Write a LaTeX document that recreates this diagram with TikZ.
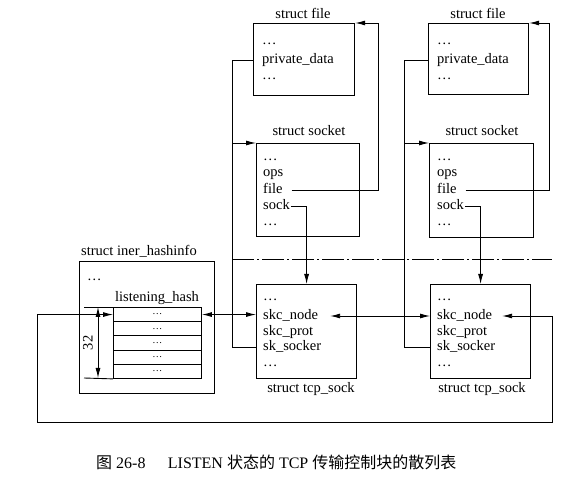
\documentclass[tikz,border=0pt]{standalone}
\usepackage{fontspec}
\setmainfont{Liberation Serif}
\newfontfamily\cjk{Noto Sans CJK SC}
\usetikzlibrary{arrows.meta}
\begin{document}
\begin{tikzpicture}[x=1pt,y=-1pt,
  box/.style={draw, line width=1.2pt, anchor=north west, inner sep=0pt},
  txt/.style={font=\fontsize{14.5}{16}\selectfont, inner sep=0pt, anchor=west, text height=10pt, text depth=3pt},
  ttl/.style={font=\fontsize{14.5}{16}\selectfont, inner sep=0pt, text height=10pt, text depth=3pt},
  row/.style={draw, line width=0.9pt, anchor=north west, inner sep=0pt, minimum width=88pt, minimum height=14.2pt, font=\fontsize{10}{10}\selectfont},
  con/.style={line width=0.9pt},
  arr/.style={con, -{Latex[length=10pt,width=5pt]}},
  darr/.style={con, {Latex[length=10pt,width=5pt]}-{Latex[length=10pt,width=5pt]}},
  dashdot/.style={line width=0.8pt, dash pattern=on 22pt off 3pt on 2pt off 3pt}]
\useasboundingbox (0,0) rectangle (574,484);

% ---------- left column ----------
\node[box, minimum width=101pt, minimum height=72pt] (file1) at (253,23) {};
\node[ttl] (file1t) at (303,15) {struct file};
\node[txt] (f1a) at (262,41) {\ldots};
\node[txt] (pd1) at (262,60) {private\_data};
\node[txt] (f1b) at (262,76) {\ldots};

\node[box, minimum width=103pt, minimum height=93pt] (sock1) at (256,143) {};
\node[ttl] (sock1t) at (309,132) {struct socket};
\node[txt] (s1a) at (263,157) {\ldots};
\node[txt] (ops1) at (263,173) {ops};
\node[txt] (fl1) at (263,190) {file};
\node[txt] (sk1) at (263,206) {sock};
\node[txt] (s1b) at (263,222) {\ldots};

\node[box, minimum width=100pt, minimum height=94pt] (tcp1) at (256,284) {};
\node[ttl] (tcp1t) at (311,389) {struct tcp\_sock};
\node[txt] (t1a) at (263,297) {\ldots};
\node[txt] (skn1) at (263,316) {skc\_node};
\node[txt] (skp1) at (263,332) {skc\_prot};
\node[txt] (sks1) at (263,347) {sk\_socker};
\node[txt] (t1b) at (263,363) {\ldots};

% ---------- right column ----------
\node[box, minimum width=100pt, minimum height=71pt] (file2) at (428,23) {};
\node[ttl] (file2t) at (478,15) {struct file};
\node[txt] (f2a) at (437,41) {\ldots};
\node[txt] (pd2) at (437,60) {private\_data};
\node[txt] (f2b) at (437,76) {\ldots};

\node[box, minimum width=104pt, minimum height=94pt] (sock2) at (429,143) {};
\node[ttl] (sock2t) at (482,132) {struct socket};
\node[txt] (s2a) at (437,157) {\ldots};
\node[txt] (ops2) at (437,173) {ops};
\node[txt] (fl2) at (437,190) {file};
\node[txt] (sk2) at (437,206) {sock};
\node[txt] (s2b) at (437,222) {\ldots};

\node[box, minimum width=100pt, minimum height=94pt] (tcp2) at (430,284) {};
\node[ttl] (tcp2t) at (482,389) {struct tcp\_sock};
\node[txt] (t2a) at (437,297) {\ldots};
\node[txt] (skn2) at (437,316) {skc\_node};
\node[txt] (skp2) at (437,332) {skc\_prot};
\node[txt] (sks2) at (437,347) {sk\_socker};
\node[txt] (t2b) at (437,363) {\ldots};

% ---------- hash info ----------
\node[box, minimum width=135pt, minimum height=132pt] (hinfo) at (79,261) {};
\node[txt] (hinfot) at (81,252) {struct iner\_hashinfo};
\node[txt] (h1) at (87,277) {\ldots};
\node[ttl] (lh) at (157,298) {listening\_hash};
\node[row] (r1) at (113,307) {\ldots};
\node[row] (r2) at (113,321.2) {\ldots};
\node[row] (r3) at (113,335.4) {\ldots};
\node[row] (r4) at (113,349.6) {\ldots};
\node[row] (r5) at (113,363.8) {\ldots};
\coordinate (dimt) at (84,307);
\coordinate (dimb) at (84,378);
\draw[con] (r1.north west) -- (dimt);
\draw[con] (r5.south west) -- (dimb);
\coordinate (da) at (98,307);
\coordinate (db) at (98,378);
\draw[darr] (da) -- (db);
\node[ttl, rotate=90] (n32) at (89,343) {32};

% ---------- connectors ----------
\coordinate (bus1) at (232,143);
\draw[arr] (pd1.west -| file1.west) -| (bus1) -- (sock1.north west);
\draw[con] (sks1.west -| tcp1.west) -| (bus1);
\coordinate (fr1) at (378,23);
\draw[arr] ([xshift=9pt]fl1.east) -| (fr1) -- (file1.north east);
\draw[arr] ([xshift=1pt]sk1.east) -| (tcp1.north);

\coordinate (bus2) at (404,143);
\draw[arr] (pd2.west -| file2.west) -| (bus2) -- (sock2.north west);
\draw[con] (sks2.west -| tcp2.west) -| (bus2);
\coordinate (fr2) at (549,23);
\draw[arr] ([xshift=9pt]fl2.east) -| (fr2) -- (file2.north east);
\draw[arr] ([xshift=1pt]sk2.east) -| (tcp2.north);

\coordinate (dd1) at (232,259);
\coordinate (dd2) at (552,259);
\draw[dashdot] (dd1) -- (dd2);

\draw[darr] (r1.east) -- (r1.east -| tcp1.west);
\draw[darr] ([xshift=12pt]skn1.east) -- (skn1.east -| tcp2.west);

\coordinate (lr) at (552,422);
\coordinate (ll) at (37,422);
\draw[darr] ([xshift=10pt]skn2.east) -| (lr) -- (ll) |- (r1.west);

% ---------- caption ----------
\node[anchor=west, inner sep=0pt, font=\fontsize{16}{18}\selectfont] (cap) at (96,462)
  {{\cjk 图}~26-8\hspace{1.4em}LISTEN {\cjk 状态的} TCP {\cjk 传输控制块的散列表}};
\end{tikzpicture}
\end{document}
